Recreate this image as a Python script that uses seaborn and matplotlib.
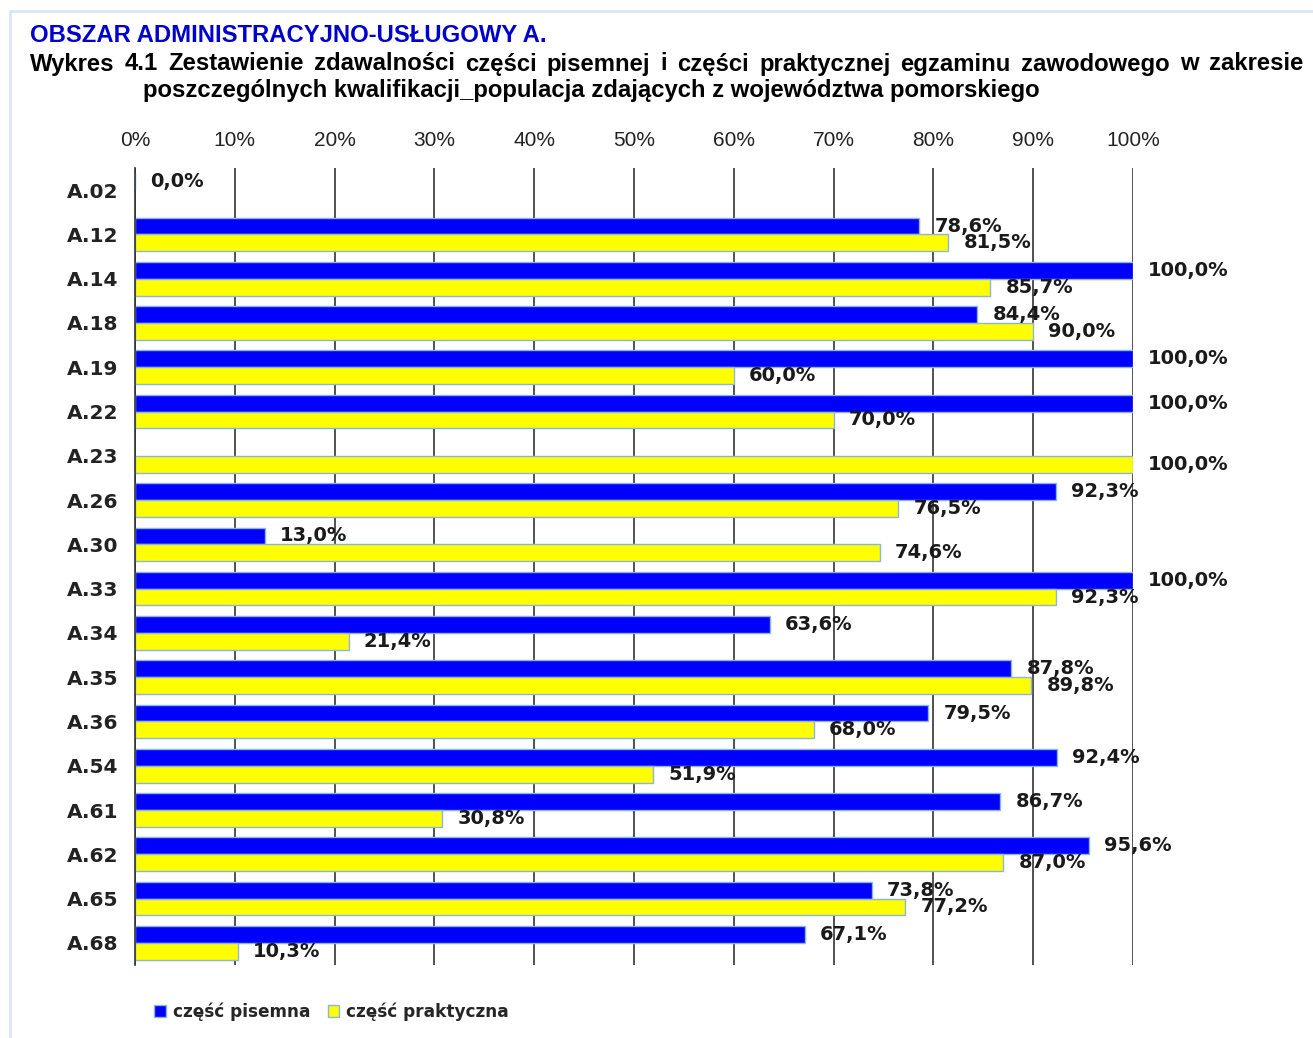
import pandas as pd
import numpy as np
import matplotlib
matplotlib.use('Agg')
import matplotlib.pyplot as plt
from matplotlib.lines import Line2D
import seaborn as sns

# Data
kwalifikacje = ['A.02', 'A.12', 'A.14', 'A.18', 'A.19', 'A.22', 'A.23', 'A.26', 'A.30',
                'A.33', 'A.34', 'A.35', 'A.36', 'A.54', 'A.61', 'A.62', 'A.65', 'A.68']
pisemna = [0.0, 78.6, 100.0, 84.4, 100.0, 100.0, np.nan, 92.3, 13.0,
           100.0, 63.6, 87.8, 79.5, 92.4, 86.7, 95.6, 73.8, 67.1]
praktyczna = [np.nan, 81.5, 85.7, 90.0, 60.0, 70.0, 100.0, 76.5, 74.6,
              92.3, 21.4, 89.8, 68.0, 51.9, 30.8, 87.0, 77.2, 10.3]
seria = ['część pisemna', 'część praktyczna']
xticks = [0, 10, 20, 30, 40, 50, 60, 70, 80, 90, 100]

df = pd.DataFrame({'kwalifikacja': kwalifikacje * 2,
                   'wartosc': pisemna + praktyczna,
                   'czesc': [seria[0]] * len(kwalifikacje) + [seria[1]] * len(kwalifikacje)})
df = df.dropna()

sns.set_theme(style='white')
plt.rcParams['font.family'] = ['DejaVu Sans']

W, H = 1313, 1038
fig = plt.figure(figsize=(W / 100, H / 100), dpi=100)
ax = fig.add_axes([135 / W, 1 - 965 / H, 998 / W, 797 / H])

sns.barplot(data=df, y='kwalifikacja', x='wartosc', hue='czesc', order=kwalifikacje,
            hue_order=seria, palette=['#0000FF', '#FFFF00'], orient='h', width=0.76,
            edgecolor='#8DB3E2', linewidth=1, saturation=1, ax=ax, legend=True)

for cont in ax.containers:
    labels = [f'{b.get_width():.1f}%'.replace('.', ',') for b in cont]
    ax.bar_label(cont, labels=labels, padding=11, fontsize=14, fontweight='bold',
                 color='#1a1a1a')

ax.set_xlim(0, 100)
ax.set_ylim(len(kwalifikacje) - 0.5, -0.5)
ax.set_xticks(xticks)
ax.set_xticklabels([f'{t}%' for t in xticks], family='Liberation Sans', fontsize=15,
                   color='#222222')
ax.xaxis.tick_top()
ax.tick_params(axis='x', length=0, pad=13)
ax.tick_params(axis='y', length=0, pad=12)
for lab in ax.get_yticklabels():
    lab.set_fontweight('bold')
    lab.set_fontsize(14.5)
    lab.set_color('#222222')
ax.set_xlabel('')
ax.set_ylabel('')
ax.xaxis.grid(True, color='#333333', linewidth=1.2)
ax.set_axisbelow(True)
for s in ['top', 'right', 'bottom']:
    ax.spines[s].set_visible(False)
ax.spines['left'].set_color('#333333')
ax.spines['left'].set_linewidth(1.2)

handles, lbls = ax.get_legend_handles_labels()
ax.legend(handles, lbls, loc='lower left', bbox_to_anchor=(0.106, 0.002),
          bbox_transform=fig.transFigure, ncol=2, frameon=False,
          prop={'weight': 'bold', 'size': 12.2}, handlelength=0.7, handleheight=0.7,
          handletextpad=0.4, columnspacing=1.0)

title_kw = dict(family='Liberation Sans', fontweight='bold', fontsize=17.2, va='center', ha='left')
fig.text(30 / W, 1 - 36 / H, 'OBSZAR ADMINISTRACYJNO-USŁUGOWY A.', color='#0000CC', **title_kw)

# justified second line of the title
line2 = ('Wykres 4.1 Zestawienie zdawalności części pisemnej i części praktycznej '
         'egzaminu zawodowego w zakresie').split()
renderer = fig.canvas.get_renderer()
words = [fig.text(0, 1 - 64 / H, w, color='black', **title_kw) for w in line2]
widths = [t.get_window_extent(renderer).width for t in words]
gap = (1303 - 30 - sum(widths)) / (len(words) - 1)
x = 30
for t, w in zip(words, widths):
    t.set_x(x / W)
    x += w + gap

fig.text(143 / W, 1 - 91 / H,
         'poszczególnych kwalifikacji_populacja zdających z województwa pomorskiego',
         color='black', **title_kw)

# light frame around the page
fig.add_artist(Line2D([10 / W, 1], [1 - 11 / H, 1 - 11 / H],
                      transform=fig.transFigure, color='#DCE6F2', linewidth=2))
fig.add_artist(Line2D([10 / W, 10 / W], [0, 1 - 11 / H],
                      transform=fig.transFigure, color='#DCE6F2', linewidth=2))

fig.savefig('out.png', dpi=100)
